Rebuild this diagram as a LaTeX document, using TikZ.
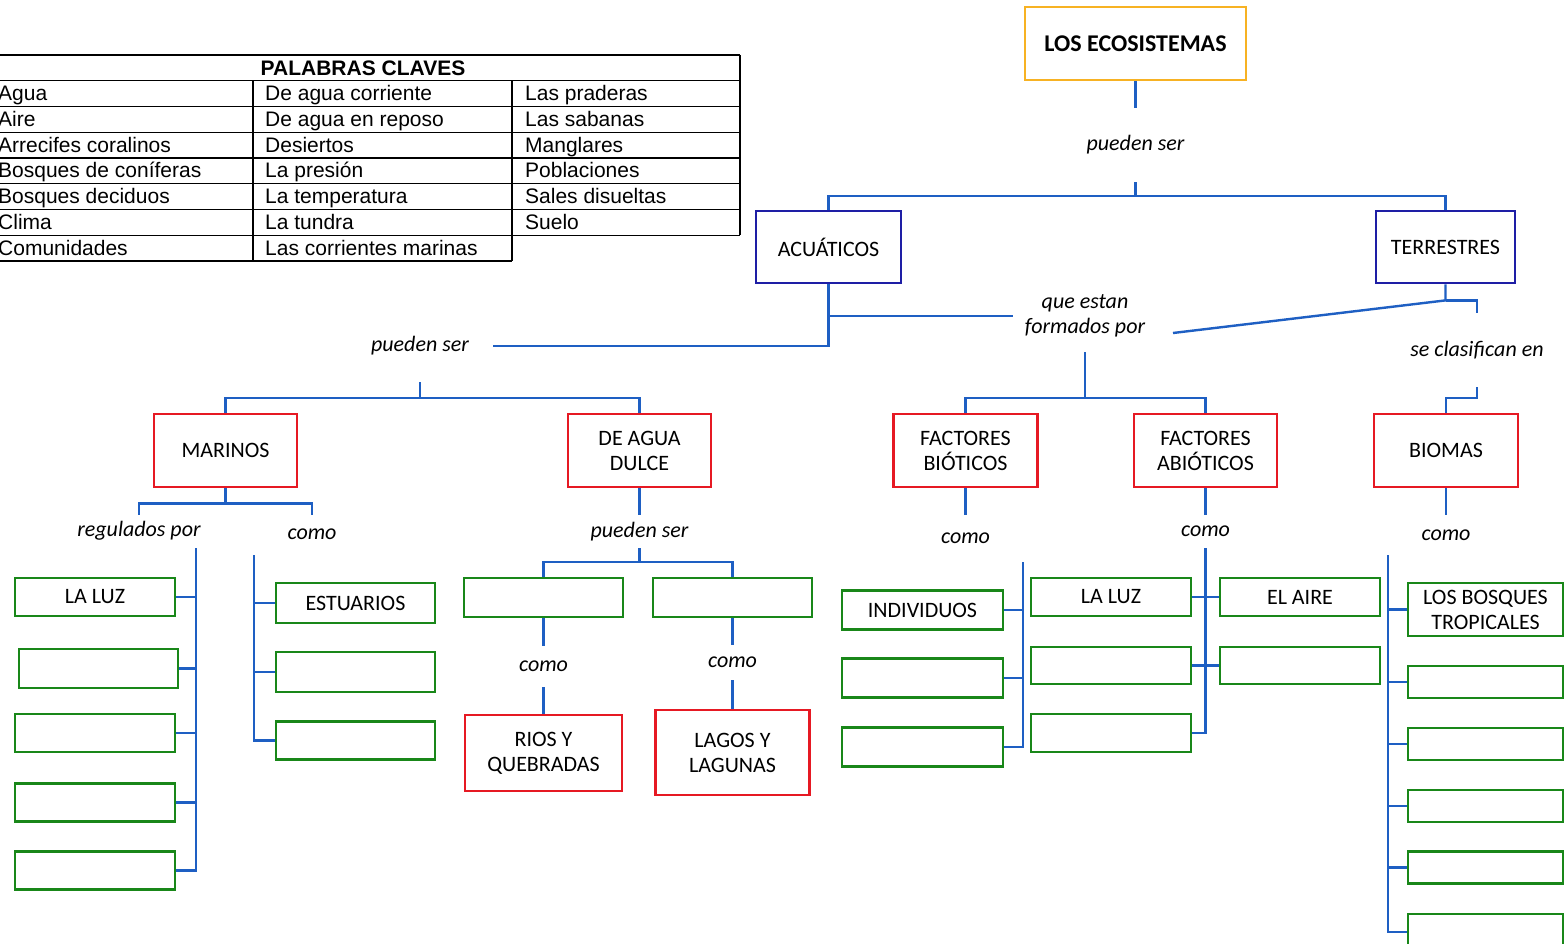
\documentclass[tikz,border=0pt]{standalone}
\usepackage{fontspec}
\setmainfont{Carlito}
\newfontfamily\tabfont{Liberation Sans}
\usetikzlibrary{calc}
\definecolor{cblue}{RGB}{30,95,195}
\definecolor{navyb}{RGB}{30,30,165}
\definecolor{redb}{RGB}{230,25,35}
\definecolor{greenb}{RGB}{25,135,25}
\definecolor{orangeb}{RGB}{247,178,35}
\begin{document}
\begin{tikzpicture}[x=1pt,y=-1pt,
  conn/.style={draw=cblue,line width=2.4pt},
  boxbase/.style={draw,line width=2.8pt,inner sep=0pt,align=center,fill=white,
    font=\fontsize{22}{25}\selectfont},
  obox/.style={boxbase,draw=orangeb,font=\fontsize{24}{27}\selectfont\bfseries},
  nbox/.style={boxbase,draw=navyb},
  rbox/.style={boxbase,draw=redb,minimum width=143,minimum height=73},
  gbox/.style={boxbase,draw=greenb,minimum width=160,minimum height=38},
  lbl/.style={inner sep=0pt,align=center,font=\fontsize{22}{25}\selectfont\itshape},
  tabt/.style={inner sep=0pt,anchor=base west,font=\tabfont\fontsize{21}{24}\selectfont},
  tabh/.style={inner sep=0pt,anchor=base,font=\tabfont\fontsize{21}{24}\selectfont\bfseries}
]
\useasboundingbox (0,0) rectangle (1564,944);
\fill[white] (0,0) rectangle (1564,944);

% ---------- table ----------
\begin{scope}[line width=1.3pt]
  \draw (-14,55) -- (740,55);
  \foreach \k in {1,...,7} \draw (-14,55+25.75*\k) -- (740,55+25.75*\k);
  \draw (-14,261) -- (512,261);
  \draw (253,80.75) -- (253,261);
  \draw (512,80.75) -- (512,261);
  \draw (740,55) -- (740,235.25);
\end{scope}
\node[tabh] (th) at (363,75.4) {PALABRAS CLAVES};
\foreach \i/\a/\b/\c in {1/Agua/De agua corriente/Las praderas,
  2/Aire/De agua en reposo/Las sabanas,
  3/Arrecifes coralinos/Desiertos/Manglares,
  4/Bosques de coníferas/La presión/Poblaciones,
  5/Bosques deciduos/La temperatura/Sales disueltas,
  6/Clima/La tundra/Suelo,
  7/Comunidades/Las corrientes marinas/}{
  \node[tabt] (ta\i) at (-2,55+25.75*\i+19.9) {\a};
  \node[tabt] (tb\i) at (265,55+25.75*\i+19.9) {\b};
  \node[tabt] (tc\i) at (525,55+25.75*\i+19.9) {\c};
}

% ---------- top levels ----------
\node[obox,minimum width=221,minimum height=73] (eco) at (1135.5,43.5) {LOS ECOSISTEMAS};
\node[lbl,minimum height=74] (l1) at (1135.5,145) {pueden ser};
\node[nbox,minimum width=145,minimum height=72] (acu) at (828.5,247) {ACUÁTICOS};
\node[nbox,minimum width=139,minimum height=72] (ter) at (1445.5,247) {TERRESTRES};
\coordinate (j1) at (1135.5,196);
\draw[conn] (eco.south) -- (l1.north);
\draw[conn] (l1.south) -- (j1);
\draw[conn] (acu.north) |- (j1) -| (ter.north);

\node[lbl,minimum width=146,minimum height=72] (l2) at (420,346) {pueden ser};
\draw[conn] (acu.south) |- (l2.east);
\node[lbl,minimum width=144,minimum height=72] (l3) at (1085,316) {que estan\\formados por};
\draw[conn] (acu.south |- l3.west) -- (l3.west);
\coordinate (tj) at ($(ter.south)+(0,16)$);
\coordinate (l3d) at (1173,333);
\draw[conn] (ter.south) -- (tj) -- (l3d);
\node[lbl,minimum height=74] (l4) at (1477,350) {se clasifican en};
\draw[conn] (tj) -| (l4.north);

% ---------- second level ----------
\coordinate (j2) at (420,398);
\draw[conn] (l2.south) -- (j2);
\node[rbox] (mar) at (225.5,450.5) {MARINOS};
\node[rbox] (dul) at (639.5,450.5) {DE AGUA\\DULCE};
\draw[conn] (mar.north) |- (j2) -| (dul.north);

\coordinate (j3) at (1085,398);
\draw[conn] (l3.south) -- (j3);
\node[rbox,minimum width=144] (bio) at (965.5,450.5) {FACTORES\\BIÓTICOS};
\node[rbox] (abio) at (1205.5,450.5) {FACTORES\\ABIÓTICOS};
\draw[conn] (bio.north) |- (j3) -| (abio.north);
\node[rbox,minimum width=144] (bms) at (1446,450.5) {BIOMAS};
\draw[conn] (l4.south) -- ++(0,11) -| (bms.north);

% ---------- MARINOS ----------
\node[lbl,minimum height=32] (l5) at (139,531) {regulados por};
\node[lbl,minimum height=38] (l6) at (312,534) {como};
\coordinate (mj) at ($(mar.south)+(0,15)$);
\draw[conn] (mar.south) -- (mj);
\draw[conn] (l5.north) |- (mj) -| (l6.north);

\node[gbox] (m1) at (95,597) {LA LUZ};
\node[gbox,minimum width=159,minimum height=39] (m2) at (98.5,668.5) {};
\node[gbox] (m3) at (95,733) {};
\node[gbox] (m4) at (95,802.5) {};
\node[gbox] (m5) at (95,870.5) {};
\coordinate (mb) at (196,548);
\draw[conn] (mb) |- (m5.east);
\foreach \n in {m1,m2,m3,m4} \draw[conn] (\n.east) -- (\n.east -| mb);

\node[gbox,minimum width=159,minimum height=40] (e1) at (355.5,603) {ESTUARIOS};
\node[gbox,minimum width=159,minimum height=40] (e2) at (355.5,672) {};
\node[gbox,minimum width=159] (e3) at (355.5,740.5) {};
\coordinate (cb) at (254,555);
\draw[conn] (cb) |- (e3.west);
\foreach \n in {e1,e2} \draw[conn] (\n.west) -- (\n.west -| cb);

% ---------- DE AGUA DULCE ----------
\node[lbl,minimum height=33] (l7) at (639.5,531.5) {pueden ser};
\draw[conn] (dul.south) -- (l7.north);
\coordinate (dj) at ($(l7.south)+(0,14)$);
\draw[conn] (l7.south) -- (dj);
\node[gbox,minimum width=159,minimum height=39] (d1) at (543.5,597.5) {};
\node[gbox,minimum width=159,minimum height=39] (d2) at (732.5,597.5) {};
\draw[conn] (d1.north) |- (dj) -| (d2.north);
\node[lbl,minimum height=41] (l8) at (543.5,666.5) {como};
\node[lbl,minimum height=35] (l9) at (732.5,662.5) {como};
\node[rbox,minimum width=157,minimum height=76] (rq) at (543.5,753) {RIOS Y\\QUEBRADAS};
\node[rbox,minimum width=154,minimum height=85] (lg) at (732.5,752.5) {LAGOS Y\\LAGUNAS};
\draw[conn] (d1.south) -- (l8.north);
\draw[conn] (l8.south) -- (rq.north);
\draw[conn] (d2.south) -- (l9.north);
\draw[conn] (l9.south) -- (lg.north);

% ---------- FACTORES BIOTICOS ----------
\node[lbl,minimum height=46] (l10) at (965.5,538) {como};
\draw[conn] (bio.south) -- (l10.north);
\node[gbox,minimum width=161,minimum height=39] (b1) at (922.5,610) {INDIVIDUOS};
\node[gbox,minimum width=161,minimum height=39] (b2) at (922.5,678) {};
\node[gbox,minimum width=161,minimum height=39] (b3) at (922.5,747) {};
\coordinate (bb) at (1023,562);
\draw[conn] (bb) |- (b3.east);
\foreach \n in {b1,b2} \draw[conn] (\n.east) -- (\n.east -| bb);

% ---------- FACTORES ABIOTICOS ----------
\node[lbl,minimum height=33] (l11) at (1205.5,531.5) {como};
\draw[conn] (abio.south) -- (l11.north);
\node[gbox] (a1) at (1111,597) {LA LUZ};
\node[gbox,minimum height=37] (a2) at (1111,665.5) {};
\node[gbox] (a3) at (1111,733) {};
\node[gbox] (a4) at (1300,597) {EL AIRE};
\node[gbox,minimum height=37] (a5) at (1300,665.5) {};
\draw[conn] (l11.south) |- (a3.east);
\draw[conn] (a1.east) -- (a4.west);
\draw[conn] (a2.east) -- (a5.west);

% ---------- BIOMAS ----------
\node[lbl,minimum height=40] (l12) at (1446,535) {como};
\draw[conn] (bms.south) -- (l12.north);
\node[gbox,minimum width=155,minimum height=53] (t1) at (1485.5,609.5) {LOS BOSQUES\\TROPICALES};
\node[gbox,minimum width=155,minimum height=32] (t2) at (1485.5,682) {};
\node[gbox,minimum width=155,minimum height=32] (t3) at (1485.5,744) {};
\node[gbox,minimum width=155,minimum height=32] (t4) at (1485.5,806) {};
\node[gbox,minimum width=155,minimum height=32] (t5) at (1485.5,867.5) {};
\node[gbox,minimum width=155,minimum height=36] (t6) at (1485.5,932) {};
\coordinate (tb) at (1388,555);
\draw[conn] (tb) |- (t6.west);
\foreach \n in {t1,t2,t3,t4,t5} \draw[conn] (\n.west) -- (\n.west -| tb);
\end{tikzpicture}
\end{document}
